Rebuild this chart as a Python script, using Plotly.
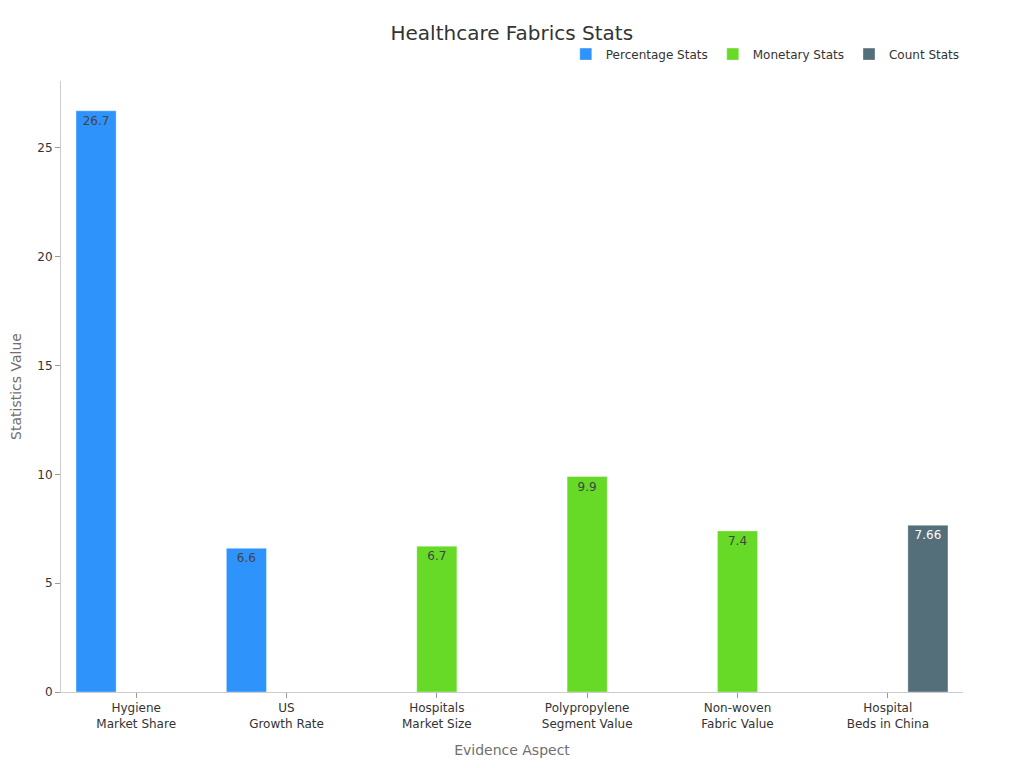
import plotly.graph_objects as go

categories = ["Hygiene<br>Market Share", "US<br>Growth Rate", "Hospitals<br>Market Size",
              "Polypropylene<br>Segment Value", "Non-woven<br>Fabric Value", "Hospital<br>Beds in China"]
series_names = ["Percentage Stats", "Monetary Stats", "Count Stats"]
pct_vals = [26.7, 6.6, None, None, None, None]
mon_vals = [None, None, 6.7, 9.9, 7.4, None]
cnt_vals = [None, None, None, None, None, 7.66]
colors = ["#2E93FA", "#66DA26", "#546E7A"]

fig = go.Figure()
for name, vals, col in zip(series_names, [pct_vals, mon_vals, cnt_vals], colors):
    fig.add_trace(go.Bar(
        x=categories, y=vals, name=name,
        marker=dict(color=col, line=dict(color="rgba(255,255,255,0.35)", width=1)),
        text=[("" if v is None else str(v)) for v in vals],
        textposition="inside", insidetextanchor="end",
        textfont=dict(size=12),
    ))

fig.update_layout(
    barmode="group",
    width=1024, height=768,
    font=dict(family="DejaVu Sans", size=12, color="#333"),
    title=dict(text="Healthcare Fabrics Stats", x=0.492, xanchor="center", y=0.9674, yanchor="middle",
               font=dict(size=20, color="#333")),
    legend=dict(orientation="h", x=1.002, xanchor="right", y=1.044, yanchor="middle",
                font=dict(size=12, color="#333")),
    margin=dict(l=53, r=69, t=73, b=84),
    plot_bgcolor="white", paper_bgcolor="white",
    xaxis=dict(title=dict(text="Evidence Aspect", font=dict(size=14, color="#707070")),
               showline=True, linecolor="#ccc", ticks="outside", tickcolor="#999", ticklen=5,
               showgrid=False, automargin=False),
    yaxis=dict(title=dict(text="Statistics Value", font=dict(size=14, color="#707070"), standoff=18),
               showline=True, linecolor="#ccc", ticks="outside", tickcolor="#999", ticklen=5,
               showgrid=False, zeroline=False, range=[0, 28.07], automargin=False),
    uniformtext=dict(minsize=8),
)

fig.write_html("out.html")
